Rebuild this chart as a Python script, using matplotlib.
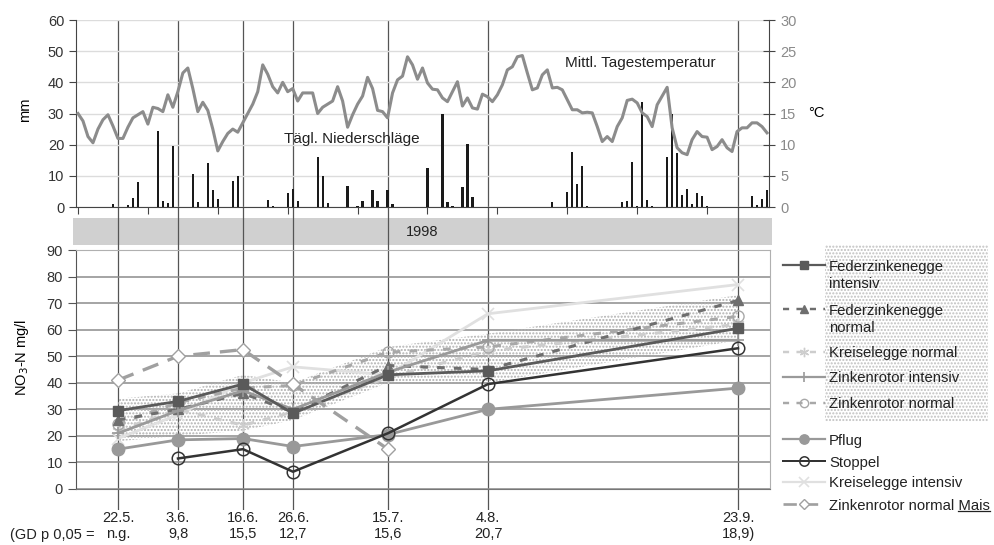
import matplotlib.pyplot as plt
import matplotlib.lines as mlines
import matplotlib.patches as mpatches
from matplotlib.transforms import IdentityTransform
import numpy as np

plt.rcParams['font.family'] = ['Liberation Sans', 'DejaVu Sans']
plt.rcParams['hatch.linewidth'] = 1.0

# Witterung 14.5. - 29.9.1998, Tag des Jahres ab start_day
start_day = 134
temp = [15.0, 13.8, 11.3, 10.3, 12.5, 14.0, 14.8, 13.0, 11.0, 11.0,
        12.8, 14.3, 14.8, 15.3, 13.3, 16.0, 15.8, 15.3, 18.0, 16.0,
        18.5, 21.5, 22.3, 19.0, 15.3, 16.8, 15.5, 12.5, 9.0, 10.5,
        11.8, 12.5, 12.0, 13.5, 15.0, 16.5, 18.5, 22.8, 21.3, 19.3,
        18.3, 20.0, 18.5, 19.0, 17.0, 18.3, 18.3, 18.3, 15.0, 16.0,
        16.5, 17.0, 19.3, 17.0, 12.8, 14.8, 16.5, 17.8, 20.8, 19.0,
        15.5, 15.3, 14.3, 18.3, 20.4, 21.0, 24.1, 22.8, 20.5, 22.3,
        19.9, 18.9, 18.8, 17.5, 16.9, 18.5, 20.1, 16.2, 17.5, 15.9,
        15.7, 18.1, 17.7, 16.9, 18.0, 19.6, 22.0, 22.5, 24.1, 24.3,
        21.5, 18.8, 19.1, 21.2, 22.0, 19.1, 19.2, 18.8, 17.2, 15.6,
        15.6, 15.1, 15.2, 15.1, 12.9, 10.5, 11.3, 10.5, 12.9, 14.3,
        17.1, 17.3, 16.7, 15.1, 14.5, 12.9, 16.4, 17.8, 19.2, 12.7,
        9.5, 8.7, 8.4, 10.8, 12.1, 11.3, 11.2, 9.2, 9.7, 10.8,
        9.5, 8.9, 12.1, 12.7, 12.7, 13.5, 13.5, 12.9, 11.9]
rain_idx = [7, 10, 11, 12, 16, 17, 18, 19, 23, 24, 26, 27, 28, 31, 32, 38, 39,
            42, 43, 44, 48, 49, 50, 54, 56, 57, 59, 60, 62, 63, 70, 73, 74, 75,
            77, 78, 79, 95, 98, 99, 100, 101, 102, 109, 110, 111, 112, 113, 114,
            115, 118, 119, 120, 121, 122, 123, 124, 125, 126, 135, 136, 137, 138]
rain_mm = [1, 0.5, 3, 8, 24.5, 2, 1.3, 19.6, 10.6, 1.6, 14, 5.3, 2.7, 8.4, 10,
           2.3, 0.4, 4.5, 5.8, 2, 16, 10, 1.3, 6.6, 0.4, 1.9, 5.4, 1.9, 5.3, 1,
           12.5, 30, 1.6, 0.4, 6.3, 20.3, 3.1, 1.5, 4.7, 17.6, 7.5, 13, 0.4,
           1.6, 1.8, 14.5, 0.2, 33.6, 2.2, 0.4, 16.2, 30, 17.3, 3.7, 5.8, 1,
           4.5, 3.4, 0.4, 3.5, 0.5, 2.7, 5.4]

# Probenahmetermine
dates = ['22.5.', '3.6.', '16.6.', '26.6.', '15.7.', '4.8.', '23.9.']
date_doy = [142, 154, 167, 177, 196, 216, 266]
gd = ['n.g.', '9,8', '15,5', '12,7', '15,6', '20,7', '18,9)']

fz_int = [29.5, 33, 39.5, 28.5, 43, 44.5, 60.5]
fz_norm = [26, 30, 36, 29, 46.5, 45, 71]
ke_norm = [22, 30, 24, 29, 42, 52, 62]
zr_int = [21, 29.5, 37, 30, 44, 56, 56]
zr_norm = [24.5, 32.5, 38, 39, 51.5, 53.5, 65]
pflug = [15, 18.5, 19, 16, 20.5, 30, 38]
stoppel = [np.nan, 11.5, 15, 6.5, 21, 39.5, 53]
ke_int = [19, 28, 40, 46, 43, 66, 77]
zr_mais = [41, 50, 52.5, 39.5, 15, np.nan, np.nan]
band_lo = [18, 20, 22, 26, 40, 40, 56]
band_hi = [34, 36, 43, 40, 53.5, 58.5, 73]

W, H = 995, 545
def fx(x):
    return x / W
def fy(y):
    return 1 - y / H

xlim = (133.6, 272.4)
fig = plt.figure(figsize=(W / 100, H / 100), dpi=100)

# graues Band "1998"
ax_band = fig.add_axes([fx(73), fy(245), fx(772) - fx(73), fy(218) - fy(245)])
ax_band.set_facecolor('#d0d0d0')
ax_band.set_xticks([])
ax_band.set_yticks([])
for s in ax_band.spines.values():
    s.set_visible(False)
ax_band.text(0.5, 0.5, '1998', ha='center', va='center', fontsize=10.5,
             color='#222222', transform=ax_band.transAxes)
ax_band.set_zorder(0)

# senkrechte Linien an den Probenahmeterminen
ax_v = fig.add_axes([fx(76), fy(510), fx(770) - fx(76), fy(20) - fy(510)])
ax_v.set_xlim(xlim)
ax_v.set_ylim(0, 1)
ax_v.axis('off')
ax_v.set_zorder(0.5)
for d in date_doy:
    ax_v.axvline(d, color='#555555', lw=0.9)

# oben: Niederschlag und Temperatur
ax_t = fig.add_axes([fx(76), fy(207), fx(769) - fx(76), fy(20) - fy(207)])
ax_t.set_zorder(1)
ax_t.patch.set_visible(False)
days = start_day + np.arange(len(temp))
ax_t.bar(start_day + np.array(rain_idx), rain_mm, width=0.45, color='#1a1a1a', zorder=3)
ax_t.set_xlim(xlim)
ax_t.set_ylim(0, 60)
ax_t.set_yticks(range(0, 61, 10))
ax_t.grid(axis='y', color='#dcdcdc', lw=1)
ax_t.set_axisbelow(True)
ax_t.set_xticks(np.arange(start_day, 273, 14))
ax_t.tick_params(axis='x', length=5, color='#444444', labelbottom=False)
ax_t.tick_params(axis='y', length=5, color='#444444', labelcolor='#333333', labelsize=10.5)
ax_t.spines['top'].set_visible(False)
ax_t.spines['right'].set_visible(False)
ax_t.spines['left'].set_color('#444444')
ax_t.spines['bottom'].set_color('#444444')

ax_r = ax_t.twinx()
ax_r.set_zorder(2)
ax_r.plot(days, temp, color='#8c8c8c', lw=2.2)
ax_r.set_xlim(xlim)
ax_r.set_ylim(0, 30)
ax_r.set_yticks(range(0, 31, 5))
ax_r.tick_params(axis='y', direction='inout', length=9, color='#444444',
                 labelcolor='#8a8a8a', labelsize=10.5)
for k in ['top', 'left', 'bottom']:
    ax_r.spines[k].set_visible(False)
ax_r.spines['right'].set_color('#444444')

fig.text(fx(25), fy(110), 'mm', rotation=90, ha='center', va='center', fontsize=10.5)
fig.text(fx(816), fy(113), '°C', ha='center', va='center', fontsize=10.5)
fig.text(fx(352), fy(139), 'Tägl. Niederschläge', ha='center', va='center',
         fontsize=11, color='#222222')
fig.text(fx(640), fy(63), 'Mittl. Tagestemperatur', ha='center', va='center',
         fontsize=11, color='#222222')

# unten: Nitrat-N
ax_b = fig.add_axes([fx(76), fy(489), fx(770) - fx(76), fy(250) - fy(489)])
ax_b.set_zorder(1)
ax_b.patch.set_visible(False)
ax_b.set_xlim(xlim)
ax_b.set_ylim(0, 90)
ax_b.set_yticks(range(0, 91, 10))
ax_b.grid(axis='y', color='#8c8c8c', lw=1.1)
ax_b.set_axisbelow(True)
ax_b.set_xticks(date_doy)
ax_b.set_xticklabels([f'{d}\n{g}' for d, g in zip(dates, gd)], fontsize=10.5, color='#222222')
ax_b.tick_params(axis='x', length=0, pad=16)
ax_b.tick_params(axis='y', length=6, color='#555555', labelcolor='#333333', labelsize=10.5)
ax_b.spines['left'].set_color('#555555')
ax_b.spines['bottom'].set_color('#777777')
ax_b.spines['top'].set_color('#b0b0b0')
ax_b.spines['right'].set_color('#b0b0b0')

ax_b.fill_between(date_doy, band_lo, band_hi, facecolor='none', edgecolor='#b0b0b0',
                  hatch='.....', lw=0, zorder=2)

styles = [
    ('Federzinkenegge\nintensiv', fz_int, dict(color='#5a5a5a', ls='-', lw=2, marker='s', ms=7)),
    ('Federzinkenegge\nnormal', fz_norm, dict(color='#6e6e6e', ls=(0, (2.5, 3)), lw=2.2, marker='^', ms=7)),
    ('Kreiselegge normal', ke_norm, dict(color='#cdcdcd', ls=(0, (2.5, 3)), lw=2.2, marker=(6, 2, 0), ms=9)),
    ('Zinkenrotor intensiv', zr_int, dict(color='#9a9a9a', ls='-', lw=2, marker='+', ms=9, mew=1.2)),
    ('Zinkenrotor normal', zr_norm, dict(color='#a8a8a8', ls=(0, (2.5, 3)), lw=2.2, marker='o', ms=8, mfc='none')),
    ('Pflug', pflug, dict(color='#999999', ls='-', lw=2, marker='o', ms=9)),
    ('Stoppel', stoppel, dict(color='#333333', ls='-', lw=1.8, marker='o', ms=9, mfc='none', mew=1.1)),
    ('Kreiselegge intensiv', ke_int, dict(color='#e0e0e0', ls='-', lw=2, marker='x', ms=9, mew=1.2)),
    ('Zinkenrotor normal Mais', zr_mais, dict(color='#a0a0a0', ls=(0, (5, 3)), lw=2.4, marker='D', ms=7, mfc='white')),
]
draw_order = [7, 2, 4, 1, 3, 0, 5, 6, 8]
for z, k in enumerate(draw_order):
    lab, vals, st = styles[k]
    ax_b.plot(date_doy, vals, zorder=3 + z * 0.1, **st)

fig.text(fx(22), fy(357), 'NO$_3$-N mg/l', rotation=90, ha='center', va='center', fontsize=10.5)
fig.text(fx(10), fy(535), '(GD p 0,05 =', ha='left', va='center', fontsize=10.5, color='#222222')

# Legende
fig.add_artist(mpatches.Rectangle((fx(825), fy(422)), fx(988) - fx(825), fy(245) - fy(422),
                                  transform=fig.transFigure, facecolor='none',
                                  edgecolor='#c0c0c0', hatch='.....', lw=0))
rows = [265, 309, 352, 377, 403, 439, 461, 482, 504]
texts = []
for (lab, vals, st), y in zip(styles, rows):
    st_leg = dict(st)
    st_leg['lw'] = st['lw'] * 0.8
    st_leg['ms'] = st['ms'] * 0.75
    ln = mlines.Line2D([fx(783), fx(804), fx(825)], [fy(y)] * 3, transform=fig.transFigure,
                       markevery=[1], **st_leg)
    fig.add_artist(ln)
    for k, part in enumerate(lab.split('\n')):
        t = fig.text(fx(829), fy(y + 18 * k), part, ha='left', va='center_baseline',
                     fontsize=10.7, color='#222222')
    texts.append(t)

# "Mais" unterstreichen
fig.canvas.draw()
r = fig.canvas.get_renderer()
bb = texts[-1].get_window_extent(r)
tmp = fig.text(0, 0, 'Mais', fontsize=10.7)
w = tmp.get_window_extent(r).width
tmp.remove()
fig.add_artist(mlines.Line2D([bb.x1 - w, bb.x1], [bb.y0 + 2, bb.y0 + 2],
                             transform=IdentityTransform(), color='#222222', lw=0.9))

fig.savefig('out.png', dpi=100)
